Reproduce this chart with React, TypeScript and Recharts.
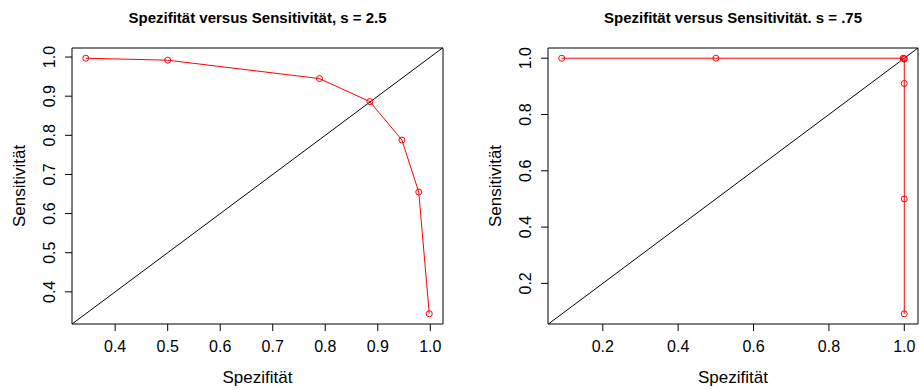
import { ScatterChart, Scatter, XAxis, YAxis, ReferenceLine, ReferenceArea, Label } from "recharts"

const FONT = "'Liberation Sans', Arial, Helvetica, sans-serif"
const RED = "#FF0000"

// panel 1: s = 2.5
const spezA = [0.344, 0.5, 0.789, 0.885, 0.946, 0.978, 0.998]
const sensA = [0.997, 0.992, 0.945, 0.886, 0.788, 0.655, 0.344]
const xTicksA = [0.4, 0.5, 0.6, 0.7, 0.8, 0.9, 1.0]
const yTicksA = [0.4, 0.5, 0.6, 0.7, 0.8, 0.9, 1.0]

// panel 2: s = .75
const spezB = [0.091, 0.5, 0.997, 1.0, 1.0, 1.0, 1.0, 1.0]
const sensB = [1.0, 1.0, 1.0, 0.999, 0.997, 0.91, 0.5, 0.092]
const xTicksB = [0.2, 0.4, 0.6, 0.8, 1.0]
const yTicksB = [0.2, 0.4, 0.6, 0.8, 1.0]

const titleA = "Spezifität versus Sensitivität, s = 2.5"
const titleB = "Spezifität versus Sensitivität. s = .75"
const xLabel = "Spezifität"
const yLabel = "Sensitivität"

// like R: data range widened by 4% on each side
function rRange(vals: number[]): [number, number] {
  const lo = Math.min(...vals)
  const hi = Math.max(...vals)
  const pad = (hi - lo) * 0.04
  return [lo - pad, hi + pad]
}

const fmt = (v: number) => v.toFixed(1)

function YTick(props: any) {
  const { x, y, payload } = props
  return (
    <text
      x={x}
      y={y}
      transform={`rotate(-90, ${x}, ${y})`}
      textAnchor="middle"
      fontSize={16}
      fontFamily={FONT}
      fill="#000"
    >
      {fmt(payload.value)}
    </text>
  )
}

function Dot(props: any) {
  return <circle cx={props.cx} cy={props.cy} r={3} fill="none" stroke={RED} strokeWidth={1} />
}

type PanelProps = {
  title: string
  xs: number[]
  ys: number[]
  xTicks: number[]
  yTicks: number[]
  left: number
  yAxisWidth: number
  rightMargin: number
}

function Panel({ title, xs, ys, xTicks, yTicks, left, yAxisWidth, rightMargin }: PanelProps) {
  const data = xs.map((x, i) => ({ x, y: ys[i] }))
  const xDom = rRange(xs)
  const yDom = rRange(ys)
  const dLo = Math.max(xDom[0], yDom[0])
  const dHi = Math.min(xDom[1], yDom[1])
  const width = 460
  const height = 390
  const plotW = width - yAxisWidth - rightMargin

  return (
    <div style={{ position: "absolute", left, top: 0, width, height }}>
      <ScatterChart
        width={width}
        height={height}
        margin={{ top: 48, right: rightMargin, bottom: 0, left: 0 }}
      >
        <text
          x={yAxisWidth + plotW / 2}
          y={23}
          textAnchor="middle"
          fontSize={15}
          fontWeight="bold"
          fontFamily={FONT}
          fill="#000"
        >
          {title}
        </text>
        <XAxis
          type="number"
          dataKey="x"
          domain={xDom}
          allowDataOverflow
          ticks={xTicks}
          interval={0}
          tickFormatter={fmt}
          height={66}
          axisLine={false}
          tickSize={7}
          tickMargin={10}
          tickLine={{ stroke: "#000" }}
          tick={{ fontSize: 16, fill: "#000", fontFamily: FONT }}
        >
          <Label
            content={(p: any) => {
              const vb = p.viewBox
              return (
                <text x={vb.x + vb.width / 2} y={vb.y + 59} textAnchor="middle" fontSize={17} fontFamily={FONT} fill="#000">
                  {xLabel}
                </text>
              )
            }}
          />
        </XAxis>
        <YAxis
          type="number"
          dataKey="y"
          domain={yDom}
          allowDataOverflow
          ticks={yTicks}
          interval={0}
          width={yAxisWidth}
          axisLine={false}
          tickSize={7}
          tickMargin={10}
          tickLine={{ stroke: "#000" }}
          tick={<YTick />}
        >
          <Label
            content={(p: any) => {
              const vb = p.viewBox
              const lx = vb.x + vb.width - 47
              const ly = vb.y + vb.height / 2
              return (
                <text
                  x={lx}
                  y={ly}
                  transform={`rotate(-90, ${lx}, ${ly})`}
                  textAnchor="middle"
                  fontSize={17}
                  fontFamily={FONT}
                  fill="#000"
                >
                  {yLabel}
                </text>
              )
            }}
          />
        </YAxis>
        <ReferenceArea
          x1={xDom[0]}
          x2={xDom[1]}
          y1={yDom[0]}
          y2={yDom[1]}
          fill="none"
          fillOpacity={0}
          stroke="#000"
          strokeWidth={1}
          ifOverflow="visible"
        />
        <ReferenceLine
          segment={[
            { x: dLo, y: dLo },
            { x: dHi, y: dHi },
          ]}
          stroke="#000"
          strokeWidth={1}
          ifOverflow="visible"
        />
        <Scatter
          data={data}
          line={{ stroke: RED, strokeWidth: 1 }}
          shape={<Dot />}
          fill={RED}
          isAnimationActive={false}
        />
      </ScatterChart>
    </div>
  )
}

export default function App() {
  return (
    <div style={{ position: "absolute", left: 0, top: 0, width: 919, height: 390, background: "#fff" }}>
      <Panel title={titleA} xs={spezA} ys={sensA} xTicks={xTicksA} yTicks={yTicksA} left={0} yAxisWidth={72} rightMargin={17} />
      <Panel title={titleB} xs={spezB} ys={sensB} xTicks={xTicksB} yTicks={yTicksB} left={459} yAxisWidth={89} rightMargin={1} />
    </div>
  )
}
